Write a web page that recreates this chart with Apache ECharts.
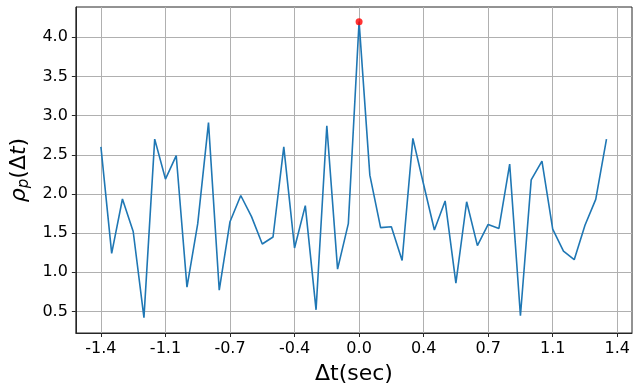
<!DOCTYPE html>
<html>
<head>
<meta charset="utf-8">
<script src="https://cdn.jsdelivr.net/npm/echarts@6/dist/echarts.min.js"></script>
<style>
html,body{margin:0;padding:0;background:#fff;}
#main{width:638px;height:392px;}
</style>
</head>
<body>
<div id="main"></div>
<script>
// lag index (samples) and sample step in seconds
var lagIndex = [-24,-23,-22,-21,-20,-19,-18,-17,-16,-15,-14,-13,-12,-11,-10,-9,-8,-7,-6,-5,-4,-3,-2,-1,
                0,1,2,3,4,5,6,7,8,9,10,11,12,13,14,15,16,17,18,19,20,21,22,23];
var dt = 1.4 / 24;
var rho = [2.60,1.24,1.935,1.52,0.42,2.70,2.19,2.49,0.81,1.62,2.91,0.77,1.645,1.98,1.71,1.36,1.45,2.60,1.31,1.85,0.52,2.87,1.04,1.62,
           4.20,2.24,1.57,1.58,1.15,2.71,2.12,1.54,1.91,0.86,1.90,1.34,1.61,1.56,2.38,0.445,2.18,2.42,1.55,1.27,1.16,1.60,1.93,2.70];
var peakLag = [0];
var peakVal = [4.20];
var xTicks = [-1.4,-1.05,-0.7,-0.35,0,0.35,0.7,1.05,1.4];
var xTickLabels = ['-1.4','-1.1','-0.7','-0.4','0.0','0.4','0.7','1.1','1.4'];
var yTicks = [0.5,1.0,1.5,2.0,2.5,3.0,3.5,4.0];

var lineData = [];
for (var i = 0; i < lagIndex.length; i++) {
    lineData.push([lagIndex[i] * dt, rho[i]]);
}
var peakData = [];
for (var j = 0; j < peakLag.length; j++) {
    peakData.push([peakLag[j] * dt, peakVal[j]]);
}

var myChart = echarts.init(document.getElementById('main'), null, {renderer: 'canvas'});
var font = 'DejaVu Sans';
var option = {
    animation: false,
    grid: {
        left: 74, right: 6, top: 7, bottom: 59,
        show: true, borderColor: '#262626', borderWidth: 1
    },
    xAxis: {
        type: 'value',
        min: -1.536,
        max: 1.480,
        name: 'Δt(sec)',
        nameLocation: 'middle',
        nameGap: 30,
        nameTextStyle: {fontFamily: font, fontSize: 22, color: '#000'},
        axisLine: {show: true, onZero: false, lineStyle: {color: '#262626', width: 1}},
        axisTick: {show: true, length: 4, customValues: xTicks, lineStyle: {color: '#262626'}},
        axisLabel: {
            customValues: xTicks,
            margin: 8,
            fontFamily: font, fontSize: 16, color: '#000',
            formatter: function (v) {
                for (var k = 0; k < xTicks.length; k++) {
                    if (Math.abs(xTicks[k] - v) < 1e-6) return xTickLabels[k];
                }
                return '';
            }
        },
        splitLine: {show: true, lineStyle: {color: '#b0b0b0', width: 1}}
    },
    yAxis: {
        type: 'value',
        min: 0.224,
        max: 4.387,
        name: '{a|ρ}{s|p}{b|(Δ}{a|t}{b|)}',
        nameLocation: 'middle',
        nameRotate: 90,
        nameGap: 42,
        nameTextStyle: {
            fontFamily: font, fontSize: 22, color: '#000',
            rich: {
                a: {fontFamily: font, fontSize: 22, fontStyle: 'italic', color: '#000'},
                b: {fontFamily: font, fontSize: 22, color: '#000'},
                s: {fontFamily: font, fontSize: 15, fontStyle: 'italic', color: '#000', verticalAlign: 'bottom', padding: [10, 0, 0, 0]}
            }
        },
        axisLine: {show: true, onZero: false, lineStyle: {color: '#262626', width: 1}},
        axisTick: {show: true, length: 4, customValues: yTicks, lineStyle: {color: '#262626'}},
        axisLabel: {
            customValues: yTicks,
            margin: 8,
            fontFamily: font, fontSize: 16, color: '#000',
            formatter: function (v) { return v.toFixed(1); }
        },
        splitLine: {show: true, lineStyle: {color: '#b0b0b0', width: 1}}
    },
    series: [
        {
            type: 'line',
            data: lineData,
            showSymbol: false,
            symbol: 'none',
            lineStyle: {color: '#1f77b4', width: 1.6},
            z: 3
        },
        {
            type: 'scatter',
            data: peakData,
            symbolSize: 7,
            itemStyle: {color: '#ff0000'},
            z: 4
        }
    ]
};
myChart.setOption(option);
</script>
</body>
</html>
